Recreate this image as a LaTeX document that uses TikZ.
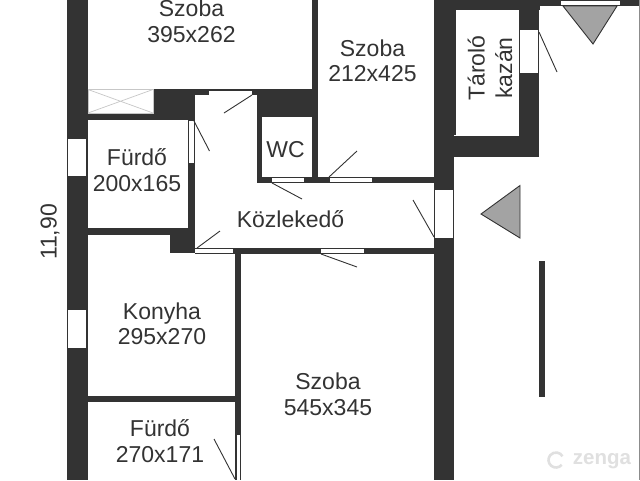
\documentclass[tikz,border=0pt]{standalone}
\usepackage{fontspec}
\setmainfont{Liberation Sans}
\definecolor{wallc}{HTML}{333333}
\definecolor{triC}{HTML}{A3A3A3}
\tikzset{
  wall/.style={fill=wallc,draw=none},
  opening/.style={fill=white,draw=none},
  swing/.style={draw=wallc,line width=0.9pt},
  lbl/.style={text=wallc,font=\fontsize{23}{25.5}\selectfont,align=center,inner sep=0pt},
  tri/.style={fill=triC,draw=wallc,line width=0.9pt,line join=miter},
  vent/.style={draw=black!22,line width=0.7pt}
}
\begin{document}
\begin{tikzpicture}[x=1pt,y=-1pt]
\useasboundingbox (0,0) rectangle (640,480);
\fill[white] (0,0) rectangle (640,480);
% outer and structural walls
\fill[wall] (67,0) rectangle (87.5,480);
\fill[wall] (434,0) rectangle (454,480);
\fill[wall] (434,0) rectangle (455.5,135);
\fill[wall] (434,0) rectangle (540,10);
\fill[wall] (518.5,0) rectangle (539,157);
\fill[wall] (434,135.5) rectangle (539,157);
\fill[wall] (539,0) rectangle (640,6);
\fill[black!45] (638.6,0) rectangle (640,480);
% inner walls
\fill[wall] (153,89) rectangle (195,120);
\fill[wall] (87,113) rectangle (195,120);
\fill[wall] (188,120) rectangle (195,235);
\fill[wall] (87,228) rectangle (195,235);
\fill[wall] (170,235) rectangle (195,253);
\fill[wall] (195,248) rectangle (434,254);
\fill[wall] (235,254) rectangle (241,480);
\fill[wall] (87,396) rectangle (235,401.5);
\fill[wall] (195,89) rectangle (312,95);
\fill[wall] (257,89) rectangle (312,117);
\fill[wall] (257,95) rectangle (262,183);
\fill[wall] (312,0) rectangle (318,183);
\fill[wall] (257,177) rectangle (434,183);
% openings
\fill[opening] (68,139) rectangle (86,176);
\fill[opening] (68,310) rectangle (86,348);
\fill[opening] (209,90.5) rectangle (252,95);
\fill[opening] (189,121) rectangle (193.5,163);
\fill[opening] (195,248.5) rectangle (233,253);
\fill[opening] (272,178) rectangle (304,182);
\fill[opening] (329.5,178) rectangle (372,182);
\fill[opening] (321,249) rectangle (364,253);
\fill[opening] (435,190) rectangle (453,238);
\fill[opening] (520,30) rectangle (538,73);
\fill[opening] (561,0.5) rectangle (620,5);
\fill[opening] (236.5,435) rectangle (240,480);
% door swings
\draw[swing] (252,95) -- (224,113);
\draw[swing] (194,121) -- (209.5,151);
\draw[swing] (197,248) -- (220,231);
\draw[swing] (272,183) -- (302,199);
\draw[swing] (329,177) -- (357,151);
\draw[swing] (321,254) -- (357,267);
\draw[swing] (413,200) -- (434,237);
\draw[swing] (539,32) -- (557,72);
\draw[swing] (214,439) -- (235,479);
% ventilation shaft
\draw[vent] (88,89.5) rectangle (153,113);
\draw[vent] (88,89.5) -- (153,113) (88,113) -- (153,89.5);
% markers
\draw[tri] (563,6) -- (617,6) -- (593,44) -- cycle;
\draw[tri] (481,214) -- (520,185.5) -- (520,238) -- cycle;
\fill[wall] (538.5,261) rectangle (545,397);
% labels
\node[lbl] (szobaA) at (191.5,21.5) {Szoba\\395x262};
\node[lbl] (szobaB) at (372.5,61) {Szoba\\212x425};
\node[lbl] (furdoA) at (137,170) {Fürdő\\200x165};
\node[lbl] (wc) at (285.5,150) {WC};
\node[lbl] (kozl) at (290.5,219) {Közlekedő};
\node[lbl] (konyha) at (162,324) {Konyha\\295x270};
\node[lbl] (szobaC) at (328,394.5) {Szoba\\545x345};
\node[lbl] (furdoB) at (160,441) {Fürdő\\270x171};
\node[lbl,rotate=90,font=\fontsize{23}{27.5}\selectfont] (tarolo) at (490,68) {Tároló\\kazán};
\node[lbl,rotate=90] (meret) at (50,232) {11,90};
% watermark
\draw[black!12,line width=2.6pt] (556,460) ++(40:7.5) arc (40:330:7.5);
\node[inner sep=0pt,text=black!12,font=\fontsize{20.5}{20.5}\bfseries\selectfont] (zenga) at (602,461) {zenga};
\end{tikzpicture}
\end{document}
